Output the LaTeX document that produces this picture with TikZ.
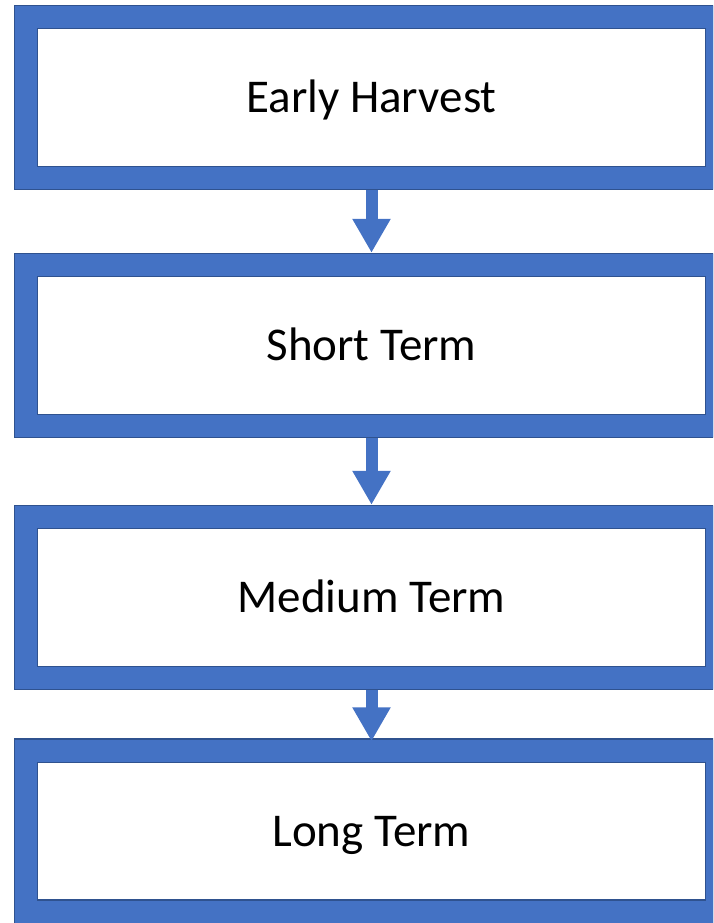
\documentclass[tikz,border=0pt]{standalone}
\usepackage{fontspec}
\setmainfont{Carlito}
\usetikzlibrary{arrows.meta}
\definecolor{fillblue}{HTML}{4472C4}
\definecolor{edgeblue}{HTML}{2F528F}
\begin{document}
\begin{tikzpicture}[x=1pt,y=-1pt,
  frame/.style={draw=edgeblue, line width=1.2pt, double=fillblue, double distance=22pt,
    fill=white, minimum width=691pt, minimum height=161pt, inner sep=0pt, outer sep=12.2pt,
    font=\fontsize{47}{56}\selectfont, text=black, text height=33pt, text depth=3pt},
  flow/.style={draw=fillblue, line width=12pt, -{Triangle[width=36pt,length=34pt]}}]
\useasboundingbox (0,0) rectangle (713,923);
\clip (0,0) rectangle (713,923);
\node[frame] (b1) at (371.5,97.5) {Early Harvest};
\node[frame] (b2) at (371.5,345.5) {Short Term};
\node[frame] (b3) at (371.5,597.5) {Medium Term};
\node[frame] (b4) at (371.5,831) {Long Term};
\draw[flow] (b1.south) -- (b2.north);
\draw[flow] (b2.south) -- (b3.north);
\draw[flow] (b3.south) -- ([yshift=-3pt]b4.north);
\end{tikzpicture}
\end{document}
